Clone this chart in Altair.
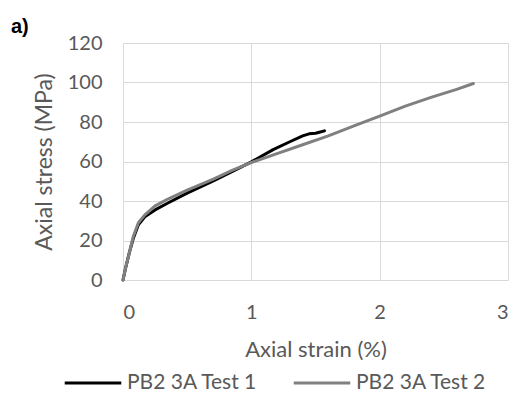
import altair as alt
import pandas as pd

# Test 1 (black)
t1_strain = [0, 0.02, 0.05, 0.08, 0.12, 0.17, 0.25, 0.35, 0.5, 0.7, 0.9, 1.0, 1.17, 1.3, 1.4, 1.45, 1.5, 1.53, 1.57]
t1_stress = [0, 6, 14, 21, 28, 32, 35.5, 39, 44, 50, 56.5, 59.8, 66, 70, 73, 74, 74.3, 74.8, 75.5]
# Test 2 (gray)
t2_strain = [0, 0.02, 0.05, 0.08, 0.12, 0.17, 0.25, 0.35, 0.5, 0.7, 0.85, 1.0, 1.2, 1.4, 1.6, 1.8, 2.0, 2.2, 2.4, 2.6, 2.73]
t2_stress = [0, 6, 14, 22, 29, 33, 37.5, 41, 45.5, 51, 55.5, 59.5, 64, 68.5, 73, 78, 83, 88, 92.5, 96.5, 99.5]

series = ["PB2 3A Test 1", "PB2 3A Test 2"]
x_ticks = [0, 1, 2, 3]
y_ticks = [0, 20, 40, 60, 80, 100, 120]

rows = []
for i, (x, y) in enumerate(zip(t1_strain, t1_stress)):
    rows.append({"strain": x, "stress": y, "series": series[0], "order": i})
for i, (x, y) in enumerate(zip(t2_strain, t2_stress)):
    rows.append({"strain": x, "stress": y, "series": series[1], "order": i})
df = pd.DataFrame(rows)

FONT = "Lato"
GRAY_TXT = "#595959"

lines = alt.Chart(df).mark_line(strokeWidth=3, strokeCap="round", strokeJoin="round").encode(
    x=alt.X("strain:Q", scale=alt.Scale(domain=[0, 3], nice=False),
            axis=alt.Axis(values=x_ticks, title="Axial strain (%)", grid=True, gridColor="#d9d9d9",
                          domain=False, ticks=False, labelPadding=22, titlePadding=17,
                          labelFontSize=20, titleFontSize=22, labelColor=GRAY_TXT, titleColor=GRAY_TXT,
                          labelFont=FONT, titleFont=FONT, titleFontWeight="normal", format="d")),
    y=alt.Y("stress:Q", scale=alt.Scale(domain=[0, 120], nice=False),
            axis=alt.Axis(values=y_ticks, title="Axial stress (MPa)", grid=True, gridColor="#d9d9d9",
                          domain=False, ticks=False, labelPadding=21, titlePadding=11,
                          labelFontSize=20, titleFontSize=23, labelColor=GRAY_TXT, titleColor=GRAY_TXT,
                          labelFont=FONT, titleFont=FONT, titleFontWeight="normal")),
    color=alt.Color("series:N", scale=alt.Scale(domain=series, range=["#000000", "#808080"]),
                    legend=alt.Legend(title=None, orient="none", direction="horizontal",
                                      legendX=-60, legendY=310, symbolType="stroke",
                                      symbolSize=3200, symbolStrokeWidth=3, labelFontSize=21,
                                      labelFont=FONT, labelColor=GRAY_TXT, columnPadding=29,
                                      labelOffset=4)),
    order="order:Q",
)

label = alt.Chart(pd.DataFrame({"t": ["a)"]})).mark_text(
    font="Liberation Sans", fontSize=20, fontWeight="bold", align="left", baseline="alphabetic", color="#000000"
).encode(x=alt.value(-112), y=alt.value(-10), text="t:N")

chart = alt.layer(lines, label).properties(
    width=385, height=237,
    autosize=alt.AutoSizeParams(type="none"),
    padding={"left": 123, "top": 43, "right": 7, "bottom": 114},
).configure_view(stroke=None)

chart.save("out.html", embed_options={"renderer": "svg", "actions": False})
